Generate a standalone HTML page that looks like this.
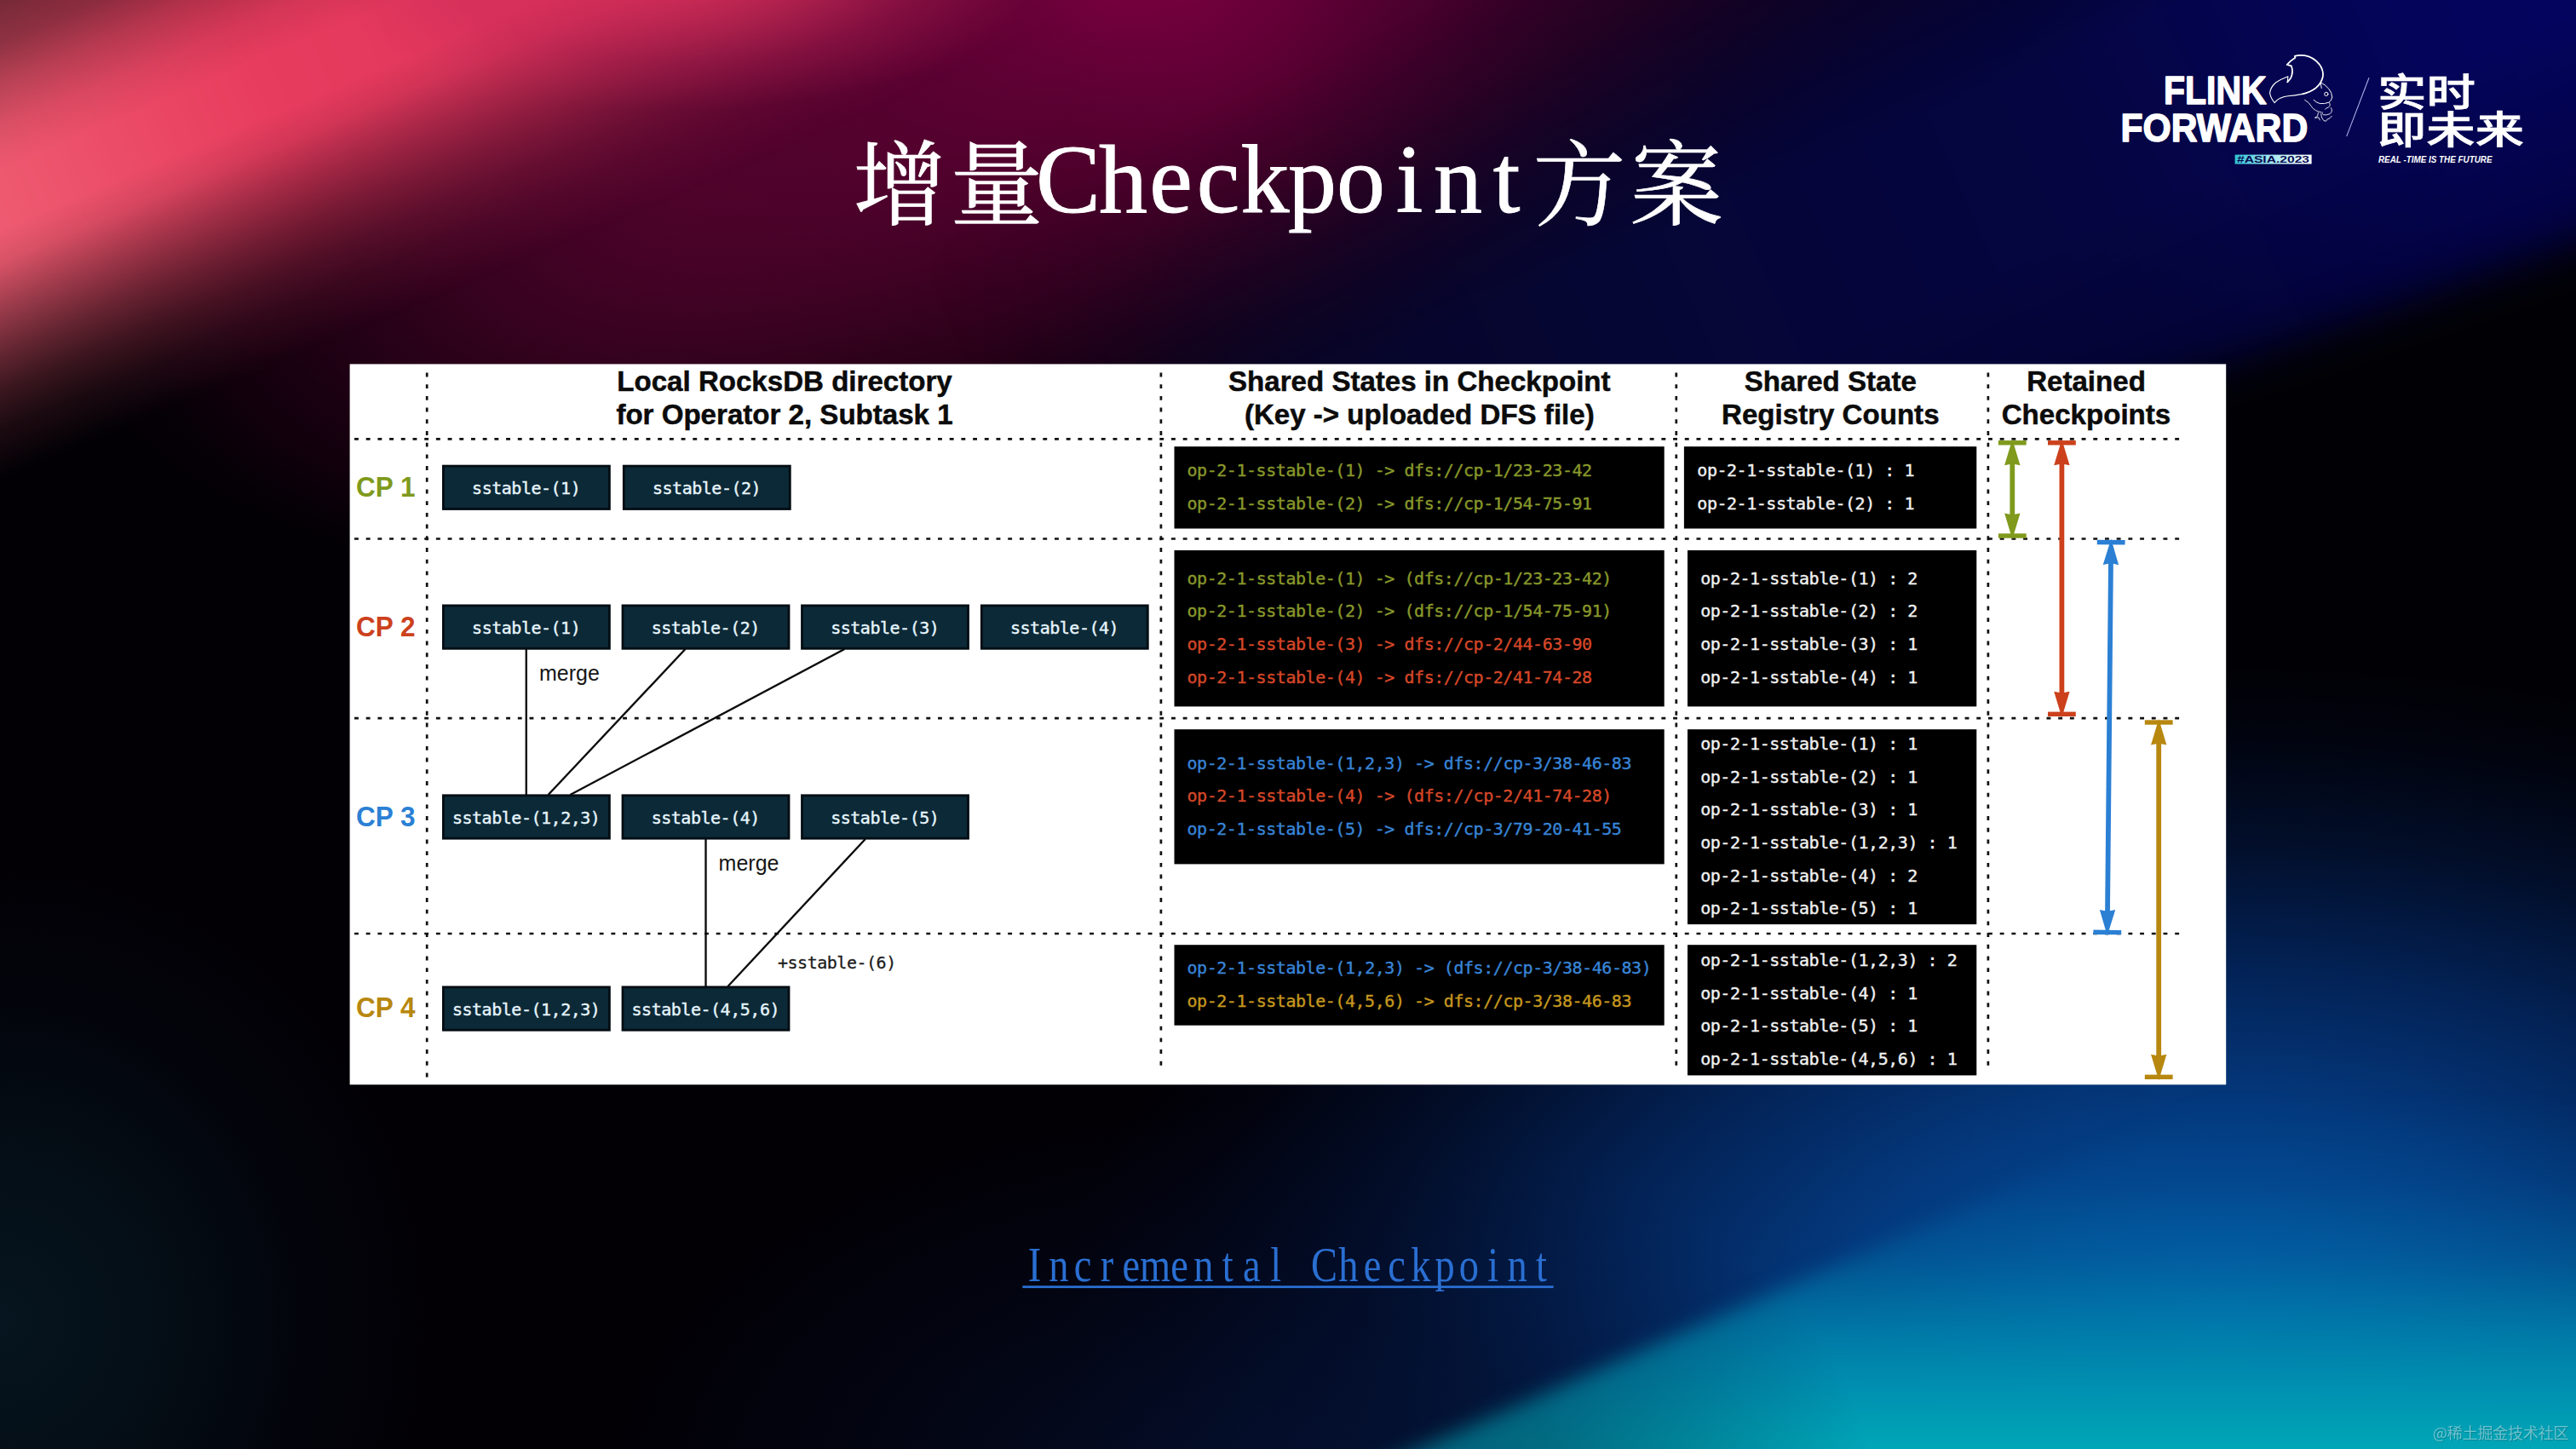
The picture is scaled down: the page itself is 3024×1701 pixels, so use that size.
<!DOCTYPE html>
<html lang="zh"><head><meta charset="utf-8"><title>增量Checkpoint方案</title>
<style>
html,body{margin:0;padding:0;background:#020005;}
body{width:3024px;height:1701px;overflow:hidden;position:relative;}
#stage{position:absolute;left:0;top:0;width:3024px;height:1701px;overflow:hidden;background:#020005;}
#stage>svg{position:absolute;left:0;top:0;}
.hd{font-family:"Liberation Sans",Arial,sans-serif;font-weight:700;font-size:33.1px;fill:#0b0b0b;stroke:#0b0b0b;stroke-width:0.5px;}
.cp{font-family:"Liberation Sans",Arial,sans-serif;font-weight:700;font-size:32.5px;}
.mg{font-family:"Liberation Sans",Arial,sans-serif;font-size:25px;fill:#161616;}
.mono{font-family:"DejaVu Sans Mono","Liberation Mono",monospace;font-size:20px;}
.tcjk{font-family:"Noto Serif CJK SC","Liberation Serif",serif;font-size:109px;fill:#fff;stroke:#fff;stroke-width:0.7px;}
.tlat{font-family:"Liberation Serif","Noto Serif CJK SC",serif;font-size:114.0px;fill:#fff;stroke:#fff;stroke-width:0.9px;}
.lnk{font-family:"Liberation Serif","Noto Serif CJK SC",serif;font-size:56.67px;fill:#2a6fd2;}
.wm{font-family:"Noto Sans CJK SC","Liberation Sans",sans-serif;font-size:18px;}
a{text-decoration:none;}
</style></head>
<body><div id="stage">
<div id="bg" style="position:absolute;left:0;top:0;width:3024px;height:1701px;overflow:hidden;background:#020005;">
<!-- magenta glow (rotated ellipse along beam) -->
<div style="position:absolute;left:0px;top:-600px;width:2600px;height:1200px;transform:rotate(-17deg);background:radial-gradient(ellipse 50% 50% at 50% 50%,rgba(125,0,66,1) 0%,rgba(100,0,55,.92) 25%,rgba(72,2,40,.8) 48%,rgba(44,1,26,.55) 72%,rgba(10,0,8,0) 100%);"></div>
<!-- magenta under-beam glow -->
<div style="position:absolute;left:150px;top:-150px;width:1300px;height:760px;transform:rotate(-20deg);background:radial-gradient(ellipse 50% 50% at 50% 50%,rgba(86,4,46,.62) 0%,rgba(76,3,42,.48) 40%,rgba(60,2,34,.25) 72%,rgba(40,0,24,0) 100%);"></div>
<!-- navy top right -->
<div style="position:absolute;left:1500px;top:-700px;width:2400px;height:1600px;background:radial-gradient(ellipse 50% 50% at 50% 50%,rgba(5,4,56,.5) 0%,rgba(5,4,50,.42) 40%,rgba(5,3,40,.25) 70%,rgba(3,1,30,0) 100%);"></div>
<div style="position:absolute;left:1150px;top:-245px;width:2400px;height:900px;transform:rotate(-24deg);filter:blur(20px);
background:linear-gradient(90deg,rgba(6,6,44,.0) 0px,rgba(6,6,46,.8) 300px,rgba(6,6,52,1) 700px,rgba(5,5,66,1) 1300px,rgba(4,4,90,1) 1700px,rgba(4,4,100,1) 2100px,rgba(4,4,100,1) 2400px);
-webkit-mask-image:linear-gradient(180deg,rgba(0,0,0,0) 0.0%,rgba(0,0,0,0.15) 11.7%,rgba(0,0,0,0.36) 19.3%,rgba(0,0,0,0.82) 33.3%,rgba(0,0,0,1) 38.9%,rgba(0,0,0,1) 61.1%,rgba(0,0,0,0.88) 68.9%,rgba(0,0,0,0.7) 83.3%,rgba(0,0,0,0.45) 100.0%);mask-image:linear-gradient(180deg,rgba(0,0,0,0) 0.0%,rgba(0,0,0,0.15) 11.7%,rgba(0,0,0,0.36) 19.3%,rgba(0,0,0,0.82) 33.3%,rgba(0,0,0,1) 38.9%,rgba(0,0,0,1) 61.1%,rgba(0,0,0,0.88) 68.9%,rgba(0,0,0,0.7) 83.3%,rgba(0,0,0,0.45) 100.0%);"></div>
<!-- pink beam -->
<div style="position:absolute;left:-150px;top:-211px;width:1700px;height:753px;transform-origin:150px 58.5%;transform:rotate(-23deg);filter:blur(20px);
background:linear-gradient(90deg,#f26078 0px,#ee5a70 150px,#e83c5e 477px,#e0355c 803px,rgba(200,40,85,.9) 1100px,rgba(160,20,80,.5) 1400px,rgba(120,10,70,0) 1700px);
-webkit-mask-image:linear-gradient(180deg,rgba(0,0,0,0) 0.0%,rgba(0,0,0,0.2) 12.2%,rgba(0,0,0,0.4) 24.4%,rgba(0,0,0,0.5) 30.5%,rgba(0,0,0,0.6) 36.6%,rgba(0,0,0,0.78) 42.7%,rgba(0,0,0,0.92) 48.8%,rgba(0,0,0,1) 54.9%,rgba(0,0,0,1) 63.4%,rgba(0,0,0,0.9) 68.3%,rgba(0,0,0,0.66) 74.6%,rgba(0,0,0,0.42) 81.0%,rgba(0,0,0,0.24) 86.6%,rgba(0,0,0,0.11) 92.1%,rgba(0,0,0,0) 100.0%);
mask-image:linear-gradient(180deg,rgba(0,0,0,0) 0.0%,rgba(0,0,0,0.2) 12.2%,rgba(0,0,0,0.4) 24.4%,rgba(0,0,0,0.5) 30.5%,rgba(0,0,0,0.6) 36.6%,rgba(0,0,0,0.78) 42.7%,rgba(0,0,0,0.92) 48.8%,rgba(0,0,0,1) 54.9%,rgba(0,0,0,1) 63.4%,rgba(0,0,0,0.9) 68.3%,rgba(0,0,0,0.66) 74.6%,rgba(0,0,0,0.42) 81.0%,rgba(0,0,0,0.24) 86.6%,rgba(0,0,0,0.11) 92.1%,rgba(0,0,0,0) 100.0%);"></div>
<!-- pink top blob -->
<div style="position:absolute;left:380px;top:-200px;width:840px;height:330px;background:radial-gradient(ellipse 50% 50% at 50% 50%,rgba(222,50,92,.75) 0%,rgba(210,44,90,.55) 35%,rgba(190,34,86,.3) 65%,rgba(170,24,82,0) 100%);"></div>
<!-- black wedge right -->
<div style="position:absolute;left:0;top:0;width:3324px;height:1701px;filter:blur(26px);">
<div style="position:absolute;left:0;top:0;width:3324px;height:1701px;background:linear-gradient(180deg,#010105 0%,#010105 46%,rgba(1,1,5,.6) 56%,rgba(1,1,5,0) 66%);clip-path:polygon(2000px 640px,3324px 182px,3324px 1300px,2000px 1300px);"></div>
</div>
<!-- bottom blue -->
<div style="position:absolute;left:1250px;top:780px;width:2700px;height:1560px;background:radial-gradient(ellipse 50% 50% at 50% 50%,rgba(4,82,162,1) 0%,rgba(4,72,148,.98) 18%,rgba(4,60,132,.94) 34%,rgba(3,42,104,.82) 54%,rgba(2,24,70,.55) 74%,rgba(1,10,40,.25) 90%,rgba(0,0,20,0) 100%);"></div>
<!-- teal wedge -->
<div style="position:absolute;left:0;top:0;width:3224px;height:1901px;filter:blur(12px);">
<div style="position:absolute;left:0;top:0;width:3224px;height:1901px;background:linear-gradient(180deg,rgba(0,96,160,0) 1290px,rgba(0,100,164,.15) 1390px,rgba(0,116,170,.45) 1480px,rgba(0,134,174,.85) 1570px,#0097b3 1650px,#00a7b7 1701px,#00a7b7 1901px);clip-path:polygon(1665px 1701px,1212px 1901px,3224px 1901px,3224px 1014px);"></div>
</div>
<!-- left bottom faint -->
<div style="position:absolute;left:-520px;top:1000px;width:1040px;height:1100px;background:radial-gradient(ellipse 50% 50% at 50% 50%,rgba(8,34,46,.62) 0%,rgba(7,28,40,.5) 35%,rgba(5,16,28,.27) 68%,rgba(2,4,12,0) 100%);"></div>
<div style="position:absolute;left:700px;top:1300px;width:1500px;height:900px;background:radial-gradient(ellipse 50% 50% at 50% 50%,rgba(6,22,62,.6) 0%,rgba(4,14,44,.38) 50%,rgba(2,4,20,0) 100%);"></div>
</div>

<svg width="3024" height="1701" viewBox="0 0 3024 1701">
<text y="248.7"><tspan class="tcjk" x="1001.5 1115.5" y="255.7">增量</tspan><tspan class="tlat" x="1216.0 1290.0 1349.2 1404.7 1456.5 1512.0 1569.0 1638.7 1683.0 1752.7" y="248.7">Checkpoint</tspan><tspan class="tcjk" x="1799.5 1913.5" y="255.7">方案</tspan></text>
<g id="logo">
<text transform="translate(2540,122.4) scale(0.872,1)" x="0" y="0" style="font-family:'Liberation Sans',Arial,sans-serif;font-weight:700;font-size:47px" fill="#fff" stroke="#fff" stroke-width="1.5" stroke-linejoin="round">FLINK</text>
<text transform="translate(2489.5,166.3) scale(0.918,1)" x="0" y="0" style="font-family:'Liberation Sans',Arial,sans-serif;font-weight:700;font-size:46.5px" fill="#fff" stroke="#fff" stroke-width="1.5" stroke-linejoin="round">FORWARD</text>
<defs><linearGradient id="asia" x1="0" x2="1" y1="0" y2="0"><stop offset="0" stop-color="#2fc4d8"/><stop offset="0.45" stop-color="#9fe6ee"/><stop offset="1" stop-color="#ffffff"/></linearGradient></defs>
<rect x="2623.6" y="181.6" width="90" height="10.9" fill="url(#asia)"/>
<text x="2626" y="190.8" style="font-family:'Liberation Sans',Arial,sans-serif;font-weight:700;font-size:11px" fill="#0a0a50" textLength="85" lengthAdjust="spacingAndGlyphs">#ASIA.2023</text>
<g transform="translate(2640,55) scale(0.065574)" fill="none" stroke="#fff" stroke-linecap="round" stroke-linejoin="round">
<path stroke-width="27" d="M690,630 L750,560 Q800,450 760,340 L680,320 Q740,250 830,195 L820,165 Q900,140 1000,155 Q1150,180 1260,310 Q1340,420 1325,530 Q1300,650 1200,735 Q1100,810 960,845"/>
<path stroke-width="17" d="M960,845 Q820,870 700,880 Q560,900 500,960 L460,1000 Q390,920 375,830 Q380,730 480,640 Q570,580 700,530 L690,630"/>
<path stroke-width="15" d="M1290,640 Q1370,680 1430,750 Q1490,830 1490,900 Q1480,970 1430,995 Q1350,1025 1270,1015 Q1200,995 1160,950"/>
<path stroke-width="15" d="M1285,650 L1300,740"/>
<circle cx="1385" cy="845" r="33" stroke-width="15"/>
<path stroke-width="13" d="M1000,950 Q1080,990 1130,1080 Q1180,1150 1290,1170"/>
<path stroke-width="13" d="M1440,1000 Q1475,1050 1420,1085 Q1380,1095 1365,1115"/>
<path stroke-width="13" d="M1470,1090 Q1510,1150 1450,1200 Q1380,1230 1330,1215 Q1305,1195 1310,1170"/>
<path stroke-width="13" d="M1485,1240 Q1450,1290 1400,1300 L1380,1330 L1340,1320 Q1295,1275 1290,1200"/>
<path stroke-width="13" d="M1240,1180 L1230,1240 L1180,1270 L1250,1265 L1270,1310"/>
</g>
<line x1="2781" y1="91.2" x2="2754.7" y2="160.1" stroke="#a9aee6" stroke-width="1.1"/>
<text x="2791" y="124.5" style="font-family:'Noto Sans CJK SC','Liberation Sans',sans-serif;font-weight:500;font-size:45px" fill="#fff" stroke="#fff" stroke-width="0.7" textLength="115" lengthAdjust="spacingAndGlyphs">实时</text>
<text x="2791" y="168.5" style="font-family:'Noto Sans CJK SC','Liberation Sans',sans-serif;font-weight:500;font-size:45px" fill="#fff" stroke="#fff" stroke-width="0.7" textLength="172" lengthAdjust="spacingAndGlyphs">即未来</text>
<text x="2792" y="190.9" style="font-family:'Liberation Sans',Arial,sans-serif;font-weight:700;font-style:italic;font-size:10.3px" fill="#fff" textLength="133.5" lengthAdjust="spacingAndGlyphs">REAL -TIME IS THE FUTURE</text>
</g>

<rect x="410.6" y="427.4" width="2202.6" height="845.9" fill="#fff"/>
<line x1="416" y1="515.3" x2="2561" y2="515.3" stroke="#111" stroke-width="2.7" stroke-dasharray="4.9 8.8" fill="none"/>
<line x1="416" y1="632.5" x2="2561" y2="632.5" stroke="#111" stroke-width="2.7" stroke-dasharray="4.9 8.8" fill="none"/>
<line x1="416" y1="843.2" x2="2561" y2="843.2" stroke="#111" stroke-width="2.7" stroke-dasharray="4.9 8.8" fill="none"/>
<line x1="416" y1="1096.0" x2="2561" y2="1096.0" stroke="#111" stroke-width="2.7" stroke-dasharray="4.9 8.8" fill="none"/>
<line x1="501.2" y1="437.5" x2="501.2" y2="1268" stroke="#111" stroke-width="2.7" stroke-dasharray="4.9 8.8" fill="none"/>
<line x1="1362.9" y1="437.5" x2="1362.9" y2="1256.5" stroke="#111" stroke-width="2.7" stroke-dasharray="4.9 8.8" fill="none"/>
<line x1="1967.8" y1="437.5" x2="1967.8" y2="1256.5" stroke="#111" stroke-width="2.7" stroke-dasharray="4.9 8.8" fill="none"/>
<line x1="2333.9" y1="437.5" x2="2333.9" y2="1256.5" stroke="#111" stroke-width="2.7" stroke-dasharray="4.9 8.8" fill="none"/>
<text x="921.0" y="459" text-anchor="middle" class="hd">Local RocksDB directory</text>
<text x="921.0" y="497.8" text-anchor="middle" class="hd">for Operator 2, Subtask 1</text>
<text x="1666.3" y="459" text-anchor="middle" class="hd">Shared States in Checkpoint</text>
<text x="1666.3" y="497.8" text-anchor="middle" class="hd">(Key -&gt; uploaded DFS file)</text>
<text x="2148.8" y="459" text-anchor="middle" class="hd">Shared State</text>
<text x="2148.8" y="497.8" text-anchor="middle" class="hd">Registry Counts</text>
<text x="2449.0" y="459" text-anchor="middle" class="hd">Retained</text>
<text x="2449.0" y="497.8" text-anchor="middle" class="hd">Checkpoints</text>
<text x="418" y="582.9" class="cp" fill="#7f9a1c" textLength="69.5" lengthAdjust="spacingAndGlyphs">CP 1</text>
<text x="418" y="746.5" class="cp" fill="#cc411c" textLength="69.5" lengthAdjust="spacingAndGlyphs">CP 2</text>
<text x="418" y="969.7" class="cp" fill="#2b80d4" textLength="69.5" lengthAdjust="spacingAndGlyphs">CP 3</text>
<text x="418" y="1194.3" class="cp" fill="#b8870f" textLength="69.5" lengthAdjust="spacingAndGlyphs">CP 4</text>
<line x1="617.8" y1="762" x2="617.8" y2="933" stroke="#0c0c0c" stroke-width="2.4" fill="none"/>
<line x1="804.5" y1="762" x2="643.6" y2="933" stroke="#0c0c0c" stroke-width="2.4" fill="none"/>
<line x1="991.4" y1="762" x2="669.4" y2="933" stroke="#0c0c0c" stroke-width="2.4" fill="none"/>
<line x1="828.5" y1="985" x2="828.5" y2="1158" stroke="#0c0c0c" stroke-width="2.4" fill="none"/>
<line x1="1015.8" y1="985" x2="854.4" y2="1158" stroke="#0c0c0c" stroke-width="2.4" fill="none"/>
<rect x="520.4" y="547.1" width="195.0" height="50.4" fill="#0c2937" stroke="#030d13" stroke-width="2.8"/>
<text x="554.1" y="579.8" class="mono" fill="#e6f5fc" stroke="#e6f5fc" stroke-width="0.4" textLength="127.6" lengthAdjust="spacing">sstable-(1)</text>
<rect x="732.3" y="547.1" width="195.0" height="50.4" fill="#0c2937" stroke="#030d13" stroke-width="2.8"/>
<text x="766.0" y="579.8" class="mono" fill="#e6f5fc" stroke="#e6f5fc" stroke-width="0.4" textLength="127.6" lengthAdjust="spacing">sstable-(2)</text>
<rect x="520.4" y="710.9" width="195.0" height="50.4" fill="#0c2937" stroke="#030d13" stroke-width="2.8"/>
<text x="554.1" y="743.6" class="mono" fill="#e6f5fc" stroke="#e6f5fc" stroke-width="0.4" textLength="127.6" lengthAdjust="spacing">sstable-(1)</text>
<rect x="731.0" y="710.9" width="195.0" height="50.4" fill="#0c2937" stroke="#030d13" stroke-width="2.8"/>
<text x="764.7" y="743.6" class="mono" fill="#e6f5fc" stroke="#e6f5fc" stroke-width="0.4" textLength="127.6" lengthAdjust="spacing">sstable-(2)</text>
<rect x="941.5" y="710.9" width="195.0" height="50.4" fill="#0c2937" stroke="#030d13" stroke-width="2.8"/>
<text x="975.2" y="743.6" class="mono" fill="#e6f5fc" stroke="#e6f5fc" stroke-width="0.4" textLength="127.6" lengthAdjust="spacing">sstable-(3)</text>
<rect x="1152.3" y="710.9" width="195.0" height="50.4" fill="#0c2937" stroke="#030d13" stroke-width="2.8"/>
<text x="1186.0" y="743.6" class="mono" fill="#e6f5fc" stroke="#e6f5fc" stroke-width="0.4" textLength="127.6" lengthAdjust="spacing">sstable-(4)</text>
<rect x="520.4" y="933.8" width="195.0" height="50.4" fill="#0c2937" stroke="#030d13" stroke-width="2.8"/>
<text x="530.9" y="966.5" class="mono" fill="#e6f5fc" stroke="#e6f5fc" stroke-width="0.4" textLength="174.0" lengthAdjust="spacing">sstable-(1,2,3)</text>
<rect x="731.0" y="933.8" width="195.0" height="50.4" fill="#0c2937" stroke="#030d13" stroke-width="2.8"/>
<text x="764.7" y="966.5" class="mono" fill="#e6f5fc" stroke="#e6f5fc" stroke-width="0.4" textLength="127.6" lengthAdjust="spacing">sstable-(4)</text>
<rect x="941.5" y="933.8" width="195.0" height="50.4" fill="#0c2937" stroke="#030d13" stroke-width="2.8"/>
<text x="975.2" y="966.5" class="mono" fill="#e6f5fc" stroke="#e6f5fc" stroke-width="0.4" textLength="127.6" lengthAdjust="spacing">sstable-(5)</text>
<rect x="520.4" y="1158.8" width="195.0" height="50.4" fill="#0c2937" stroke="#030d13" stroke-width="2.8"/>
<text x="530.9" y="1191.5" class="mono" fill="#e6f5fc" stroke="#e6f5fc" stroke-width="0.4" textLength="174.0" lengthAdjust="spacing">sstable-(1,2,3)</text>
<rect x="731.0" y="1158.8" width="195.0" height="50.4" fill="#0c2937" stroke="#030d13" stroke-width="2.8"/>
<text x="741.5" y="1191.5" class="mono" fill="#e6f5fc" stroke="#e6f5fc" stroke-width="0.4" textLength="174.0" lengthAdjust="spacing">sstable-(4,5,6)</text>
<text x="633" y="798.5" class="mg">merge</text>
<text x="843.6" y="1022.3" class="mg">merge</text>
<text x="913" y="1137" class="mono" fill="#1c1c1c" stroke="#1c1c1c" stroke-width="0.3" textLength="139.2" lengthAdjust="spacing">+sstable-(6)</text>
<rect x="1378.5" y="524.2" width="575.2" height="96.3" fill="#000"/>
<text x="1393.5" y="558.5" class="mono" fill="#88982b" stroke="#88982b" stroke-width="0.4" textLength="475.6" lengthAdjust="spacing" xml:space="preserve">op-2-1-sstable-(1) -&gt; dfs://cp-1/23-23-42</text>
<text x="1393.5" y="597.6" class="mono" fill="#88982b" stroke="#88982b" stroke-width="0.4" textLength="475.6" lengthAdjust="spacing" xml:space="preserve">op-2-1-sstable-(2) -&gt; dfs://cp-1/54-75-91</text>
<rect x="1378.5" y="646" width="575.2" height="183.4" fill="#000"/>
<text x="1393.5" y="685.6" class="mono" fill="#88982b" stroke="#88982b" stroke-width="0.4" textLength="498.8" lengthAdjust="spacing" xml:space="preserve">op-2-1-sstable-(1) -&gt; (dfs://cp-1/23-23-42)</text>
<text x="1393.5" y="724.4" class="mono" fill="#88982b" stroke="#88982b" stroke-width="0.4" textLength="498.8" lengthAdjust="spacing" xml:space="preserve">op-2-1-sstable-(2) -&gt; (dfs://cp-1/54-75-91)</text>
<text x="1393.5" y="762.9" class="mono" fill="#d54728" stroke="#d54728" stroke-width="0.4" textLength="475.6" lengthAdjust="spacing" xml:space="preserve">op-2-1-sstable-(3) -&gt; dfs://cp-2/44-63-90</text>
<text x="1393.5" y="801.6" class="mono" fill="#d54728" stroke="#d54728" stroke-width="0.4" textLength="475.6" lengthAdjust="spacing" xml:space="preserve">op-2-1-sstable-(4) -&gt; dfs://cp-2/41-74-28</text>
<rect x="1378.5" y="856.2" width="575.2" height="158.2" fill="#000"/>
<text x="1393.5" y="903.1" class="mono" fill="#3884d6" stroke="#3884d6" stroke-width="0.4" textLength="522.0" lengthAdjust="spacing" xml:space="preserve">op-2-1-sstable-(1,2,3) -&gt; dfs://cp-3/38-46-83</text>
<text x="1393.5" y="941.4" class="mono" fill="#d54728" stroke="#d54728" stroke-width="0.4" textLength="498.8" lengthAdjust="spacing" xml:space="preserve">op-2-1-sstable-(4) -&gt; (dfs://cp-2/41-74-28)</text>
<text x="1393.5" y="980.0" class="mono" fill="#3884d6" stroke="#3884d6" stroke-width="0.4" textLength="510.4" lengthAdjust="spacing" xml:space="preserve">op-2-1-sstable-(5) -&gt; dfs://cp-3/79-20-41-55</text>
<rect x="1378.5" y="1109.2" width="575.2" height="94.5" fill="#000"/>
<text x="1393.5" y="1142.9" class="mono" fill="#3884d6" stroke="#3884d6" stroke-width="0.4" textLength="545.2" lengthAdjust="spacing" xml:space="preserve">op-2-1-sstable-(1,2,3) -&gt; (dfs://cp-3/38-46-83)</text>
<text x="1393.5" y="1182.0" class="mono" fill="#c5971f" stroke="#c5971f" stroke-width="0.4" textLength="522.0" lengthAdjust="spacing" xml:space="preserve">op-2-1-sstable-(4,5,6) -&gt; dfs://cp-3/38-46-83</text>
<rect x="1976.9" y="524.2" width="343.4" height="96.3" fill="#000"/>
<text x="1992.3" y="558.5" class="mono" fill="#f0f0f0" stroke="#f0f0f0" stroke-width="0.4" textLength="255.2" lengthAdjust="spacing" xml:space="preserve">op-2-1-sstable-(1) : 1</text>
<text x="1992.3" y="597.6" class="mono" fill="#f0f0f0" stroke="#f0f0f0" stroke-width="0.4" textLength="255.2" lengthAdjust="spacing" xml:space="preserve">op-2-1-sstable-(2) : 1</text>
<rect x="1981" y="646" width="339.3" height="183.4" fill="#000"/>
<text x="1996.2" y="685.6" class="mono" fill="#f0f0f0" stroke="#f0f0f0" stroke-width="0.4" textLength="255.2" lengthAdjust="spacing" xml:space="preserve">op-2-1-sstable-(1) : 2</text>
<text x="1996.2" y="724.4" class="mono" fill="#f0f0f0" stroke="#f0f0f0" stroke-width="0.4" textLength="255.2" lengthAdjust="spacing" xml:space="preserve">op-2-1-sstable-(2) : 2</text>
<text x="1996.2" y="762.9" class="mono" fill="#f0f0f0" stroke="#f0f0f0" stroke-width="0.4" textLength="255.2" lengthAdjust="spacing" xml:space="preserve">op-2-1-sstable-(3) : 1</text>
<text x="1996.2" y="801.6" class="mono" fill="#f0f0f0" stroke="#f0f0f0" stroke-width="0.4" textLength="255.2" lengthAdjust="spacing" xml:space="preserve">op-2-1-sstable-(4) : 1</text>
<rect x="1981" y="856.2" width="339.3" height="228.9" fill="#000"/>
<text x="1996.2" y="880.2" class="mono" fill="#f0f0f0" stroke="#f0f0f0" stroke-width="0.4" textLength="255.2" lengthAdjust="spacing" xml:space="preserve">op-2-1-sstable-(1) : 1</text>
<text x="1996.2" y="918.6" class="mono" fill="#f0f0f0" stroke="#f0f0f0" stroke-width="0.4" textLength="255.2" lengthAdjust="spacing" xml:space="preserve">op-2-1-sstable-(2) : 1</text>
<text x="1996.2" y="957.4" class="mono" fill="#f0f0f0" stroke="#f0f0f0" stroke-width="0.4" textLength="255.2" lengthAdjust="spacing" xml:space="preserve">op-2-1-sstable-(3) : 1</text>
<text x="1996.2" y="996.2" class="mono" fill="#f0f0f0" stroke="#f0f0f0" stroke-width="0.4" textLength="301.6" lengthAdjust="spacing" xml:space="preserve">op-2-1-sstable-(1,2,3) : 1</text>
<text x="1996.2" y="1034.6" class="mono" fill="#f0f0f0" stroke="#f0f0f0" stroke-width="0.4" textLength="255.2" lengthAdjust="spacing" xml:space="preserve">op-2-1-sstable-(4) : 2</text>
<text x="1996.2" y="1073.4" class="mono" fill="#f0f0f0" stroke="#f0f0f0" stroke-width="0.4" textLength="255.2" lengthAdjust="spacing" xml:space="preserve">op-2-1-sstable-(5) : 1</text>
<rect x="1981" y="1109.2" width="339.3" height="153.2" fill="#000"/>
<text x="1996.2" y="1134.1" class="mono" fill="#f0f0f0" stroke="#f0f0f0" stroke-width="0.4" textLength="301.6" lengthAdjust="spacing" xml:space="preserve">op-2-1-sstable-(1,2,3) : 2</text>
<text x="1996.2" y="1172.9" class="mono" fill="#f0f0f0" stroke="#f0f0f0" stroke-width="0.4" textLength="255.2" lengthAdjust="spacing" xml:space="preserve">op-2-1-sstable-(4) : 1</text>
<text x="1996.2" y="1211.3" class="mono" fill="#f0f0f0" stroke="#f0f0f0" stroke-width="0.4" textLength="255.2" lengthAdjust="spacing" xml:space="preserve">op-2-1-sstable-(5) : 1</text>
<text x="1996.2" y="1250.0" class="mono" fill="#f0f0f0" stroke="#f0f0f0" stroke-width="0.4" textLength="301.6" lengthAdjust="spacing" xml:space="preserve">op-2-1-sstable-(4,5,6) : 1</text>
<g transform="translate(2362.3,519.8) rotate(0.000)" fill="#7f9a1c"><rect x="-16.4" y="-2.7" width="32.8" height="5.4"/><rect x="-16.4" y="106.5" width="32.8" height="5.4"/><rect x="-2.9" y="10" width="5.8" height="89.2"/><path d="M0,-4 L9.2,26.5 L2.9,25.2 L-2.9,25.2 L-9.2,26.5 Z"/><path d="M0,113.2 L9.2,82.7 L2.9,84.0 L-2.9,84.0 L-9.2,82.7 Z"/></g>
<g transform="translate(2420.4,519.8) rotate(0.000)" fill="#cc411c"><rect x="-16.4" y="-2.7" width="32.8" height="5.4"/><rect x="-16.4" y="315.8" width="32.8" height="5.4"/><rect x="-2.9" y="10" width="5.8" height="298.5"/><path d="M0,-4 L9.2,26.5 L2.9,25.2 L-2.9,25.2 L-9.2,26.5 Z"/><path d="M0,322.5 L9.2,292.0 L2.9,293.3 L-2.9,293.3 L-9.2,292.0 Z"/></g>
<g transform="translate(2478.2,636.6) rotate(0.551)" fill="#2b80d4"><rect x="-16.4" y="-2.7" width="32.8" height="5.4"/><rect x="-16.4" y="455.2" width="32.8" height="5.4"/><rect x="-2.9" y="10" width="5.8" height="437.9"/><path d="M0,-4 L9.2,26.5 L2.9,25.2 L-2.9,25.2 L-9.2,26.5 Z"/><path d="M0,461.9 L9.2,431.4 L2.9,432.7 L-2.9,432.7 L-9.2,431.4 Z"/></g>
<g transform="translate(2534.2,848.0) rotate(0.000)" fill="#b8870f"><rect x="-16.4" y="-2.7" width="32.8" height="5.4"/><rect x="-16.4" y="413.6" width="32.8" height="5.4"/><rect x="-2.9" y="10" width="5.8" height="396.3"/><path d="M0,-4 L9.2,26.5 L2.9,25.2 L-2.9,25.2 L-9.2,26.5 Z"/><path d="M0,420.3 L9.2,389.8 L2.9,391.1 L-2.9,391.1 L-9.2,389.8 Z"/></g>
<a href="#"><text transform="scale(0.82,1)" x="1471.6 1501.4 1537.6 1575.3 1606.7 1631.8 1675.8 1708.8 1749.6 1779.4 1818.7 1854.0 1876.8 1916.1 1952.2 1986.8 2019.7 2054.3 2088.8 2129.7 2157.9 2198.8" y="1503.7" class="lnk" xml:space="preserve">Incremental Checkpoint</text></a><rect x="1200.3" y="1509.3" width="623.4" height="2.8" fill="#2a6fd2"/>
<text x="2856" y="1688.5" class="wm" fill="#fff" fill-opacity="0.42" textLength="159.5" style="filter:drop-shadow(1px 1px 0 rgba(0,0,0,.4))">@稀土掘金技术社区</text>
</svg>
</div></body></html>
